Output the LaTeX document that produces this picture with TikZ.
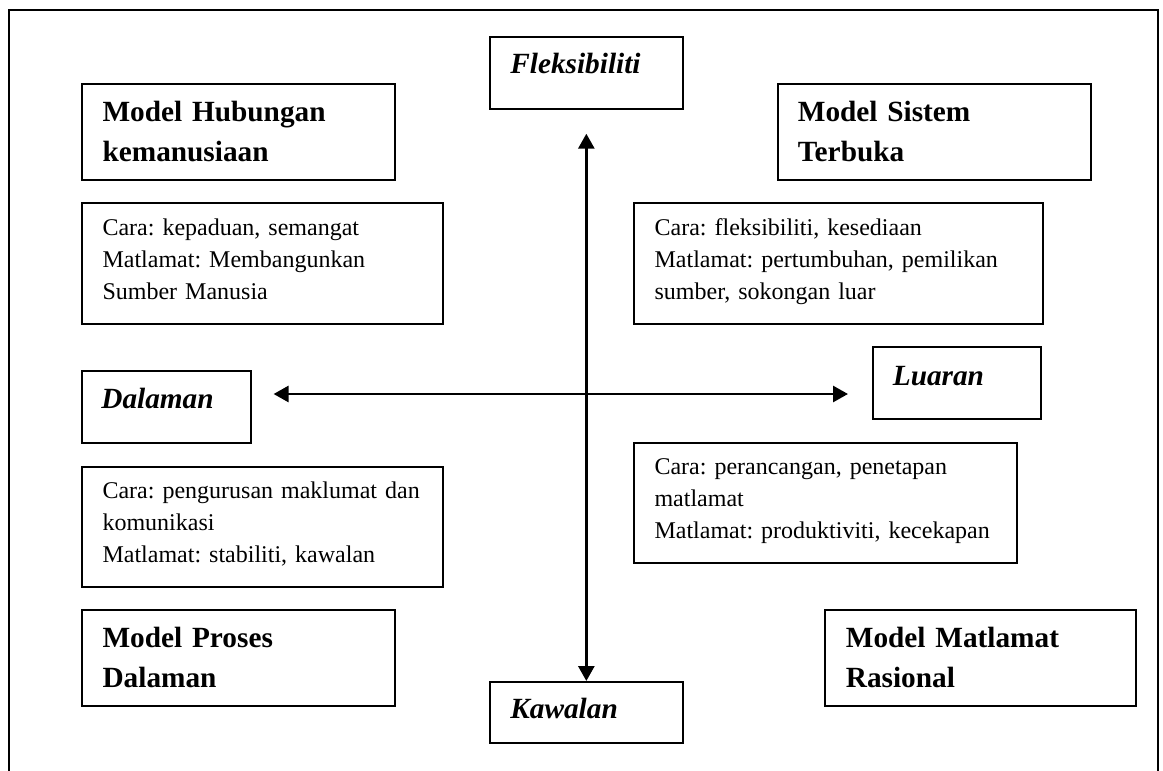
\documentclass[tikz,border=0pt]{standalone}
\usepackage{fontspec}
\setmainfont{Liberation Serif}
\usetikzlibrary{arrows.meta}
\frenchspacing
\tikzset{
  box/.style={draw, line width=1.7pt, anchor=north west, inner ysep=0pt, align=left},
  title/.style={box, inner xsep=20.7pt, text width=271.6pt, text height=38pt, text depth=58pt,
    font=\fontsize{29.3}{40}\selectfont\bfseries\frenchspacing},
  axislabel/.style={box, inner xsep=20.5pt, font=\fontsize{29.3}{36}\selectfont\bfseries\itshape},
  info/.style={box, inner xsep=20.7pt, font=\fontsize{24}{31.7}\selectfont\frenchspacing},
  biarrow/.style={line width=2.8pt,
    {Triangle[length=15pt,width=16pt]}-{Triangle[length=15pt,width=16pt]}},
  frameline/.style={line width=1.7pt}
}
\begin{document}
\begin{tikzpicture}[x=1pt,y=-1pt]
\useasboundingbox (0,0) rectangle (1163,771);
\draw[frameline] (9,771) -- (9,10) -- (1158,10) -- (1158,771);

% quadrant titles
\node[title] (mh) at (81,83) {Model Hubungan\\kemanusiaan};
\node[title, inner xsep=20pt, text width=273pt] (ms) at (777,83) {Model Sistem\\Terbuka};
\node[title] (mp) at (81,609) {Model Proses\\Dalaman};
\node[title, inner xsep=21pt, text width=269pt] (mm) at (824,609) {Model Matlamat\\Rasional};

% axis labels
\node[axislabel, text width=152pt, text height=37pt, text depth=35pt] (flex) at (489,36) {Fleksibiliti};
\node[axislabel, text width=152pt, text height=37pt, text depth=24pt] (kaw) at (489,681) {Kawalan};
\node[axislabel, inner xsep=19.5pt, text width=130pt, text height=38pt, text depth=34pt] (dal) at (81,370) {Dalaman};
\node[axislabel, inner xsep=20pt, text width=128pt, text height=39pt, text depth=33pt] (lua) at (872,346) {Luaran};

% description boxes
\node[info, text width=319.6pt, text height=33pt, text depth=88pt] (c1) at (81,202)
  {Cara: kepaduan, semangat\\Matlamat: Membangunkan\\Sumber Manusia};
\node[info, inner xsep=20.8pt, text width=367.4pt, text height=33pt, text depth=88pt] (c2) at (633,202)
  {Cara: fleksibiliti, kesediaan\\Matlamat: pertumbuhan, pemilikan\\sumber, sokongan luar};
\node[info, text width=319.6pt, text height=32pt, text depth=88pt] (c3) at (81,466)
  {Cara: pengurusan maklumat dan\\komunikasi\\Matlamat: stabiliti, kawalan};
\node[info, text width=341.6pt, text height=32pt, text depth=88pt] (c4) at (633,442)
  {Cara: perancangan, penetapan\\matlamat\\Matlamat: produktiviti, kecekapan};

% axes
\coordinate (vtop) at ([yshift=-24pt]flex.south);
\coordinate (hleft) at (273.6,394);
\coordinate (hright) at (848,394);
\draw[biarrow] (vtop) -- (kaw.north);
\draw[biarrow] (hleft) -- (hright);
\end{tikzpicture}
\end{document}
